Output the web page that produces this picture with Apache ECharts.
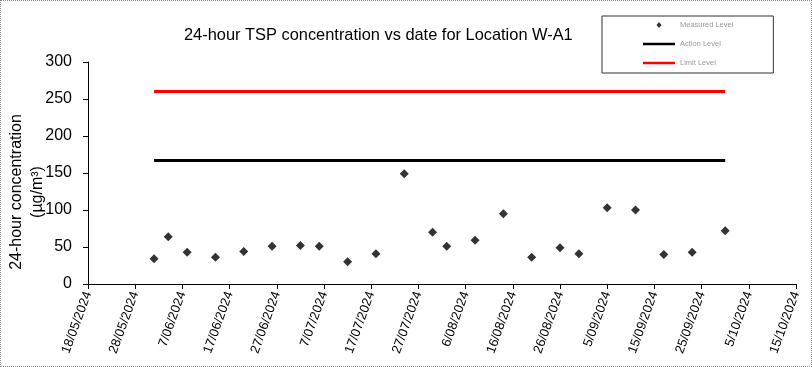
<!DOCTYPE html>
<html>
<head>
<meta charset="utf-8">
<script src="https://cdn.jsdelivr.net/npm/echarts@6/dist/echarts.min.js"></script>
<style>
html,body{margin:0;padding:0;background:#fff;}
#c{width:812px;height:367px;box-sizing:border-box;border:1px dotted #888;}
</style>
</head>
<body>
<div id="c"></div>
<script>
// ---- data ----
const startDate = '18/05/2024';
const endDate = '15/10/2024';
const measuredDates = ['1/06/2024','4/06/2024','8/06/2024','14/06/2024','20/06/2024','26/06/2024','2/07/2024','6/07/2024','12/07/2024','18/07/2024','24/07/2024','30/07/2024','2/08/2024','8/08/2024','14/08/2024','20/08/2024','26/08/2024','30/08/2024','5/09/2024','11/09/2024','17/09/2024','23/09/2024','30/09/2024'];
const measuredValues = [34,64,43,36,44,51,52,51,30,41,149,70,51,59,95,36,49,41,103,100,40,43,72];
const actionLevel = 167;
const limitLevel = 260;
const levelStart = '1/06/2024';
const levelEnd = '30/09/2024';
const yTicks = [0,50,100,150,200,250,300];

function parseD(s){const p=s.split('/');return Date.UTC(+p[2],+p[1]-1,+p[0]);}
const DAY=86400000;
const t0=parseD(startDate);
function dayOff(s){return Math.round((parseD(s)-t0)/DAY);}
function fmt(v){const d=new Date(t0+v*DAY);const m=d.getUTCMonth()+1;return d.getUTCDate()+'/'+(m<10?'0'+m:m)+'/'+d.getUTCFullYear();}

const scatterData = measuredDates.map((d,i)=>[dayOff(d),measuredValues[i]]);
const actionData = [[dayOff(levelStart),actionLevel],[dayOff(levelEnd),actionLevel]];
const limitData = [[dayOff(levelStart),limitLevel],[dayOff(levelEnd),limitLevel]];

const FONT='"Liberation Sans", Arial, sans-serif';
const LINE_ICON='path://M0,0 L32,0 L32,2.5 L0,2.5 Z';
const DIAMOND_ICON='path://M0,3 L0,3.01 L0.01,3 Z M13.5,3 L16,0 L18.5,3 L16,6 Z M32,3 L32,3.01 L31.99,3 Z';
const chart = echarts.init(document.getElementById('c'));
chart.setOption({
  animation:false,
  textStyle:{fontFamily:FONT},
  title:{text:'24-hour TSP concentration vs date for Location W-A1',left:178,top:21,
    textStyle:{fontSize:16.4,fontWeight:'normal',color:'#000',fontFamily:FONT}},
  legend:{
    orient:'vertical',left:601,top:15,
    padding:[5,40,6,41],itemGap:11,itemWidth:32,itemHeight:6,
    borderColor:'#333',borderWidth:1,
    textStyle:{fontSize:7.5,color:'#999',fontFamily:FONT},
    data:[
      {name:'Measured Level',icon:DIAMOND_ICON},
      {name:'Action Level',icon:LINE_ICON},
      {name:'Limit Level',icon:LINE_ICON}
    ]
  },
  graphic:[
    {type:'text',x:16,y:191,rotation:Math.PI/2,style:{text:'24-hour concentration',fontSize:16,fontFamily:FONT,fill:'#000',textAlign:'center',textVerticalAlign:'middle'}},
    {type:'text',x:37,y:191,rotation:Math.PI/2,style:{text:'(µg/m³)',fontSize:16,fontFamily:FONT,fill:'#000',textAlign:'center',textVerticalAlign:'middle'}}
  ],
  grid:{left:87,right:15,top:61,bottom:82,containLabel:false},
  xAxis:{type:'value',min:0,max:dayOff(endDate),interval:10,
    axisLine:{show:true,onZero:false,lineStyle:{color:'#000',width:1}},
    axisTick:{show:true,length:5,lineStyle:{color:'#000'}},
    splitLine:{show:false},
    axisLabel:{rotate:70,fontSize:13,color:'#000',fontFamily:FONT,margin:8,formatter:fmt,showMaxLabel:true,showMinLabel:true}
  },
  yAxis:{type:'value',min:yTicks[0],max:yTicks[yTicks.length-1],interval:50,
    axisLine:{show:true,lineStyle:{color:'#000',width:1}},
    axisTick:{show:true,length:5,lineStyle:{color:'#000'}},
    splitLine:{show:false},
    axisLabel:{fontSize:16,color:'#000',fontFamily:FONT,margin:16}
  },
  series:[
    {name:'Measured Level',type:'scatter',symbol:'diamond',symbolSize:9,itemStyle:{color:'#000'},data:scatterData,z:5},
    {name:'Action Level',type:'line',showSymbol:false,symbol:'none',lineStyle:{color:'#000',width:3},itemStyle:{color:'#000'},data:actionData},
    {name:'Limit Level',type:'line',showSymbol:false,symbol:'none',lineStyle:{color:'#ff0000',width:3},itemStyle:{color:'#ff0000'},data:limitData}
  ]
});
</script>
</body>
</html>
